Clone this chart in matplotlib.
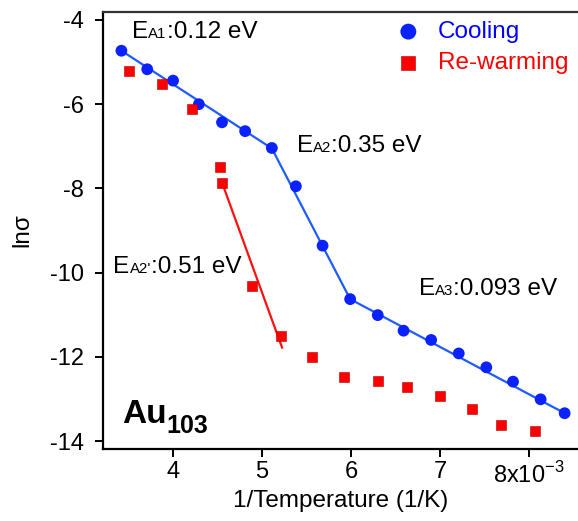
import matplotlib.pyplot as plt
import numpy as np

plt.rcParams['font.family'] = ['Liberation Sans', 'DejaVu Sans']
plt.rcParams['axes.unicode_minus'] = False
plt.rcParams['mathtext.fontset'] = 'custom'
plt.rcParams['mathtext.rm'] = 'Liberation Sans'

# Cooling data (1/T in units of 1e-3 1/K, ln sigma)
cool_x = [3.42, 3.71, 4.00, 4.29, 4.55, 4.81, 5.11, 5.38, 5.68, 5.99,
          6.30, 6.59, 6.90, 7.21, 7.52, 7.82, 8.13, 8.40]
cool_y = [-4.73, -5.17, -5.44, -6.00, -6.43, -6.64, -7.04, -7.95, -9.36, -10.63,
          -11.01, -11.38, -11.60, -11.92, -12.25, -12.59, -13.01, -13.34]

# Re-warming data
warm_x = [3.50, 3.88, 4.21, 4.53, 4.55, 4.89, 5.21, 5.56, 5.92, 6.30,
          6.63, 7.00, 7.36, 7.69, 8.07]
warm_y = [-5.20, -5.52, -6.11, -7.48, -7.86, -10.33, -11.51, -12.00, -12.47, -12.57,
          -12.71, -12.93, -13.24, -13.63, -13.76]

# piecewise fits
fit_cool_x = [3.42, 5.11, 5.99, 8.40]
fit_cool_y = [-4.73, -7.05, -10.63, -13.34]
fit_warm_x = [4.55, 5.225]
fit_warm_y = [-7.86, -11.78]

xticks = [4, 5, 6, 7, 8]
xticklabels = ['4', '5', '6', '7', r'8x10$^{\mathregular{-3}}$']
yticks = [-4, -6, -8, -10, -12, -14]

fig = plt.figure(figsize=(5.78, 5.21), dpi=100)
ax = fig.add_axes([103 / 578, 1 - 449 / 521, 1 - 103 / 578, (449 - 12) / 521])

ax.plot(fit_cool_x, fit_cool_y, color='#1f5cff', lw=1.6, zorder=2)
ax.plot(fit_warm_x, fit_warm_y, color='#ff1010', lw=1.6, zorder=2)
ax.scatter(cool_x, cool_y, s=72, marker='o', color='#0a22ff', edgecolors='none',
           zorder=3, label='Cooling')
ax.scatter(warm_x, warm_y, s=56, marker='s', color='#ff0000', edgecolors='#b00000',
           linewidths=0.4, zorder=3, label='Re-warming')

ax.set_xlim(3.213, 8.55)
ax.set_ylim(-14.19, -3.81)
ax.set_xticks(xticks)
ax.set_xticklabels(xticklabels)
ax.set_yticks(yticks)
ax.tick_params(direction='out', length=6, width=1.4, labelsize=17)
ax.tick_params(axis='x', pad=3)
ax.tick_params(axis='y', pad=8)
ax.spines['right'].set_visible(False)
for s in ['left', 'bottom', 'top']:
    ax.spines[s].set_linewidth(1.6)
ax.spines['top'].set_color('#333333')

ax.set_xlabel('1/Temperature (1/K)', fontsize=17.5, labelpad=2)
ax.set_ylabel('ln\u03c3', fontsize=17.5, labelpad=12)

leg = ax.legend(loc='upper right', bbox_to_anchor=(568 / 578, 1 - 21 / 521),
                bbox_transform=fig.transFigure, frameon=False, fontsize=17.5,
                handlelength=1.0, handletextpad=0.7, borderpad=0, borderaxespad=0,
                labelspacing=0.38, markerscale=1.35, labelcolor=['blue', 'red'])


def energy_label(x, y, sub, rest, size=17.5):
    t1 = ax.text(x, y, 'E', fontsize=size, ha='left', va='baseline')
    t2 = ax.annotate(sub, xy=(1, 0), xycoords=t1, xytext=(0, 1.3),
                     textcoords='offset points', fontsize=size * 0.62,
                     ha='left', va='bottom')
    ax.annotate(rest, xy=(1, 0), xycoords=(t2, t1), fontsize=size,
                ha='left', va='bottom')


energy_label(3.54, -4.43, 'A1', ':0.12 eV')
energy_label(5.39, -7.14, 'A2', ':0.35 eV')
energy_label(3.33, -10.0, "A2'", ':0.51 eV')
energy_label(6.76, -10.53, 'A3', ':0.093 eV')

t_au = ax.text(3.427, -13.57, 'Au', fontsize=24, fontweight='bold', ha='left', va='baseline')
ax.annotate('103', xy=(1, 0), xycoords=t_au, xytext=(0, -6),
            textcoords='offset points', fontsize=18, fontweight='bold',
            ha='left', va='bottom')

plt.savefig('out.png', dpi=100)
